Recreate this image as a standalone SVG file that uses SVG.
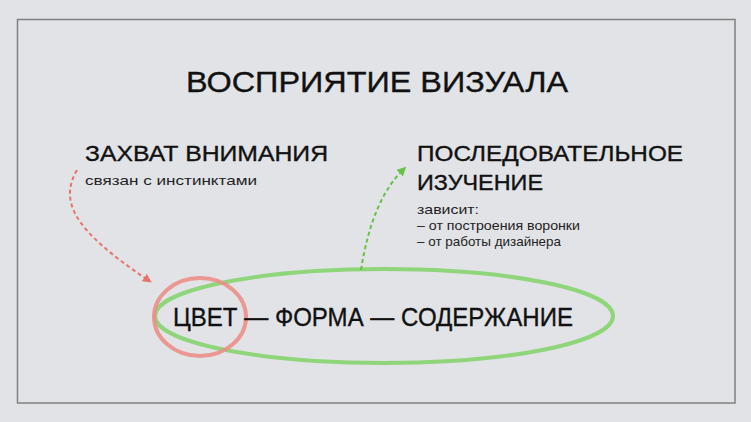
<svg xmlns="http://www.w3.org/2000/svg" width="751" height="422" viewBox="0 0 751 422">
<style>
.t{font-family:"Liberation Sans",Arial,sans-serif;fill:#111111;stroke:#111111;stroke-width:0.35}
.h1{font-size:29px}
.h2{font-size:22px}
.s{font-size:13.5px;fill:#222222;stroke:none}
.m{font-size:25px}
</style>
<defs>
<marker id="ar" viewBox="0 0 10 10" refX="5" refY="5" markerWidth="9" markerHeight="9" markerUnits="userSpaceOnUse" orient="auto">
<path d="M0,0 L10,5 L0,10 z" fill="#e8736b"/>
</marker>
<marker id="ag" viewBox="0 0 10 10" refX="5" refY="5" markerWidth="9" markerHeight="9" markerUnits="userSpaceOnUse" orient="auto">
<path d="M0,0 L10,5 L0,10 z" fill="#66c246"/>
</marker>
</defs>
<rect width="751" height="422" fill="#e2e3e7"/>
<rect x="17.5" y="19.5" width="717.5" height="383.5" fill="none" stroke="#808080" stroke-width="1.5"/>
<g id="title"><text class="t h1" x="186" y="92" textLength="382" lengthAdjust="spacingAndGlyphs">ВОСПРИЯТИЕ ВИЗУАЛА</text></g>
<g id="attention">
<text class="t h2" x="85" y="161" textLength="243" lengthAdjust="spacingAndGlyphs">ЗАХВАТ ВНИМАНИЯ</text>
<text class="t s" x="85" y="185" textLength="172" lengthAdjust="spacingAndGlyphs">связан с инстинктами</text>
</g>
<g id="study">
<text class="t h2" x="417" y="161" textLength="266" lengthAdjust="spacingAndGlyphs">ПОСЛЕДОВАТЕЛЬНОЕ</text>
<text class="t h2" x="417" y="190" textLength="126" lengthAdjust="spacingAndGlyphs">ИЗУЧЕНИЕ</text>
<text class="t s" x="417" y="214" textLength="62" lengthAdjust="spacingAndGlyphs">зависит:</text>
<text class="t s" x="417" y="230" textLength="163" lengthAdjust="spacingAndGlyphs">– от построения воронки</text>
<text class="t s" x="417" y="246" textLength="144" lengthAdjust="spacingAndGlyphs">– от работы дизайнера</text>
</g>
<g id="ellipse-green"><ellipse cx="384" cy="316" rx="229" ry="47" fill="none" stroke="#8fd57a" stroke-width="4"/></g>
<g id="circle-red"><ellipse cx="200" cy="317" rx="46" ry="39" fill="none" stroke="#ec8f88" stroke-width="4" opacity="0.9"/></g>
<g id="main"><text class="t m" x="173" y="326" textLength="400" lengthAdjust="spacingAndGlyphs">ЦВЕТ — ФОРМА — СОДЕРЖАНИЕ</text></g>
<g id="connectors" fill="none" stroke-width="2" stroke-dasharray="4 3">
<path d="M77,170 C60,200 70,228 148,280" stroke="#e8736b" marker-end="url(#ar)"/>
<path d="M361,270 Q372,200 403,170" stroke="#66c246" marker-end="url(#ag)"/>
</g>
</svg>
